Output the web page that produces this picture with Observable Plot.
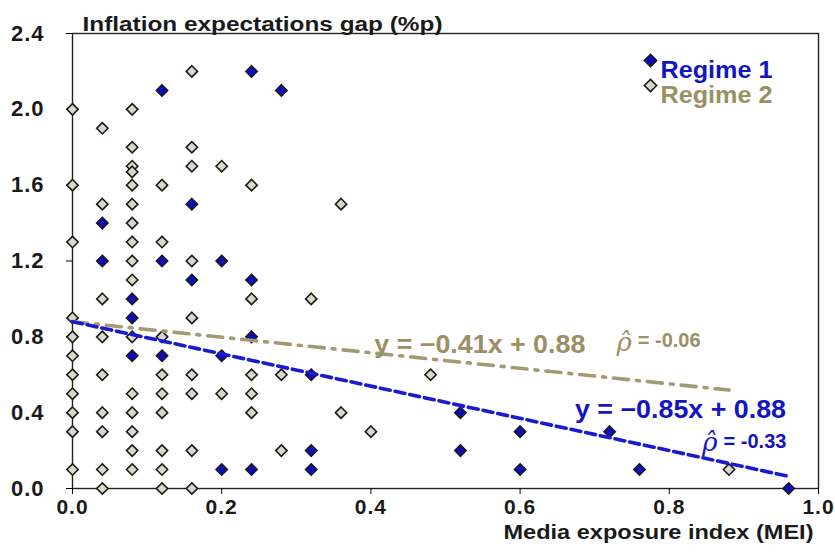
<!DOCTYPE html>
<html><head><meta charset="utf-8">
<script src="https://cdn.jsdelivr.net/npm/d3@7"></script>
<script src="https://cdn.jsdelivr.net/npm/@observablehq/plot@0.6"></script>
<style>
body{margin:0;background:#fff;}
#chart{width:835px;height:553px;}
#chart g[aria-label="y-axis tick label"] text, #chart g[aria-label="x-axis tick label"] text{letter-spacing:1px;}
</style>
</head><body><div id="chart"></div>
<script>
// ---- data ----
const regime1X = [0.12,0.24,0.28,0.16,0.04,0.04,0.12,0.20,0.16,0.24,0.08,0.08,0.24,0.08,0.12,0.20,0.32,0.52,0.60,0.72,0.32,0.52,0.20,0.24,0.32,0.60,0.76,0.96];
const regime1Y = [2.1, 2.2, 2.1, 1.5, 1.4, 1.2, 1.2, 1.2, 1.1, 1.1, 1.0, 0.9, 0.8, 0.7, 0.7, 0.7, 0.6, 0.4, 0.3, 0.3, 0.2, 0.2, 0.1, 0.1, 0.1, 0.1, 0.1, 0.0];
const regime2X = [0.16,0.00,0.08,0.04,0.08,0.16,0.08,0.08,0.16,0.20,0.00,0.08,0.12,0.24,0.04,0.08,0.36,0.08,0.00,0.08,0.12,0.08,0.16,0.08,0.04,0.24,0.32,0.00,0.16,0.00,0.04,0.08,0.12,0.00,0.00,0.04,0.12,0.16,0.24,0.28,0.48,0.00,0.08,0.12,0.16,0.20,0.24,0.00,0.04,0.08,0.12,0.24,0.36,0.00,0.04,0.08,0.40,0.08,0.12,0.16,0.28,0.00,0.04,0.08,0.12,0.88,0.04,0.12,0.16];
const regime2Y = [2.2, 2.0, 2.0, 1.9, 1.8, 1.8, 1.7, 1.67,1.7, 1.7, 1.6, 1.6, 1.6, 1.6, 1.5, 1.5, 1.5, 1.4, 1.3, 1.3, 1.3, 1.2, 1.2, 1.1, 1.0, 1.0, 1.0, 0.9, 0.9, 0.8, 0.8, 0.8, 0.8, 0.7, 0.6, 0.6, 0.6, 0.6, 0.6, 0.6, 0.6, 0.5, 0.5, 0.5, 0.5, 0.5, 0.5, 0.4, 0.4, 0.4, 0.4, 0.4, 0.4, 0.3, 0.3, 0.3, 0.3, 0.2, 0.2, 0.2, 0.2, 0.1, 0.1, 0.1, 0.1, 0.1, 0.0, 0.0, 0.0];
const regimes = ["Regime 1", "Regime 2"];
const fitSlopes = [-0.85, -0.41];
const fitIntercepts = [0.88, 0.88];
const fitXMax = [0.96, 0.88];
const fitRho = ["-0.33", "-0.06"];
const xTicks = [0, 0.2, 0.4, 0.6, 0.8, 1.0];
const yTicks = [0, 0.4, 0.8, 1.2, 1.6, 2.0, 2.4];
// annotation anchors (data units)
const eqLabelX = [0.815, 0.546];
const eqLabelY = [0.415, 0.755];
const rhoLabelX = [0.862, 0.747];
const rhoLabelY = [0.25, 0.78];

const title = "Inflation expectations gap (%p)";
const xLabel = "Media exposure index (MEI)";

// ---- styles ----
const fillColors = {"Regime 1": "#0c0cc4", "Regime 2": "#d9d9cb"};
const textColors = {"Regime 1": "#1414c0", "Regime 2": "#9a9064"};
const lineColors = {"Regime 1": "#1a1ad0", "Regime 2": "#a39a72"};
const dashes = {"Regime 1": "10,5", "Regime 2": "15,8,3,8"};

const pts = [
  ...regime2X.map((x, i) => ({regime: "Regime 2", x, y: regime2Y[i]})),
  ...regime1X.map((x, i) => ({regime: "Regime 1", x, y: regime1Y[i]}))
];
const fits = regimes.map((r, i) => ({regime: r, slope: fitSlopes[i], intercept: fitIntercepts[i], xMax: fitXMax[i], rho: fitRho[i],
  eqX: eqLabelX[i], eqY: eqLabelY[i], rhoX: rhoLabelX[i], rhoY: rhoLabelY[i]}));
const sign = v => (v < 0 ? "\u2212" : "+");
const fmt = d => d.toFixed(1);
const eqText = d => `y = ${sign(d.slope)}${Math.abs(d.slope).toFixed(2)}x ${sign(d.intercept)} ${d.intercept.toFixed(2)}`;

const FONT = "'Liberation Sans', Arial, sans-serif";
const marks = [
  Plot.frame({stroke: "#222", strokeWidth: 1.4}),
  Plot.axisY({ticks: yTicks, tickFormat: fmt, tickSize: 6, tickPadding: 22, label: null, fontSize: 22, fontWeight: "bold", fill: "#1a1a1a"}),
  Plot.axisX({ticks: xTicks, tickFormat: fmt, tickSize: 6, tickPadding: 5, label: null, fontSize: 21, fontWeight: "bold", fill: "#1a1a1a"}),
  Plot.dot(pts, {x: "x", y: "y", symbol: "diamond2", r: 5.1, fill: d => fillColors[d.regime], stroke: "#1a1a1a", strokeWidth: 1.6}),
];
fits.slice().reverse().forEach(f => {
  marks.push(Plot.line([{x: 0, y: f.intercept}, {x: f.xMax, y: f.intercept + f.slope * f.xMax}],
    {x: "x", y: "y", stroke: lineColors[f.regime], strokeWidth: 3.6, strokeDasharray: dashes[f.regime]}));
});
fits.forEach(f => {
  marks.push(Plot.text([f], {x: "eqX", y: "eqY", text: eqText,
    fill: textColors[f.regime], fontSize: 25, fontWeight: "bold", fontFamily: FONT}));
  marks.push(Plot.text([f], {x: "rhoX", y: "rhoY", text: d => `= ${d.rho}`, textAnchor: "start", dx: 8,
    fill: textColors[f.regime], fontSize: 20, fontWeight: "bold", fontFamily: FONT, letterSpacing: "0.5px"}));
  marks.push(Plot.text([f], {x: "rhoX", y: "rhoY", text: () => "\u03C1\u0302", textAnchor: "end", dx: 2, dy: 2,
    fill: textColors[f.regime], fontSize: 26, fontStyle: "italic", fontFamily: "'DejaVu Serif', serif"}));
});
// legend
regimes.forEach((r, i) => {
  marks.push(Plot.dot([r], {frameAnchor: "top-right", dx: -168, dy: 27 + i * 25, symbol: "diamond2", r: 5.5, fill: fillColors[r], stroke: "#1a1a1a", strokeWidth: 1.6}));
  marks.push(Plot.text([r], {frameAnchor: "top-right", dx: -158, dy: 28 + i * 25, text: d => d, textAnchor: "start", fill: textColors[r], fontSize: 23, fontWeight: "bold", fontFamily: FONT}));
});
// titles
marks.push(Plot.text([title], {frameAnchor: "top-left", dx: 10, dy: -17, text: d => d, textAnchor: "start", fill: "#1a1a1a", fontSize: 21, fontWeight: "bold",
  fontFamily: FONT}));
marks.push(Plot.text([xLabel], {frameAnchor: "bottom-right", dx: -5, dy: 50, text: d => d, textAnchor: "end", fill: "#1a1a1a", fontSize: 20, fontWeight: "bold",
  fontFamily: FONT}));

const chart = Plot.plot({
  width: 835, height: 553,
  marginLeft: 72, marginRight: 17, marginTop: 33, marginBottom: 65,
  x: {domain: [0, 1]},
  y: {domain: [0, 2.4]},
  style: {fontFamily: FONT, background: "#fff", overflow: "visible"},
  marks
});
// fit text widths to the reference's (wide) typeface
const textWidths = new Map([
  [title, 360], [xLabel, 310], ["Regime 1", 112], ["Regime 2", 112],
  [eqText(fits[0]), 211], [eqText(fits[1]), 211]
]);
d3.select(chart).selectAll("text").each(function() {
  const w = textWidths.get(this.textContent);
  if (w) { this.setAttribute("textLength", w); this.setAttribute("lengthAdjust", "spacingAndGlyphs"); }
});
document.getElementById("chart").appendChild(chart);
</script>
</body></html>
